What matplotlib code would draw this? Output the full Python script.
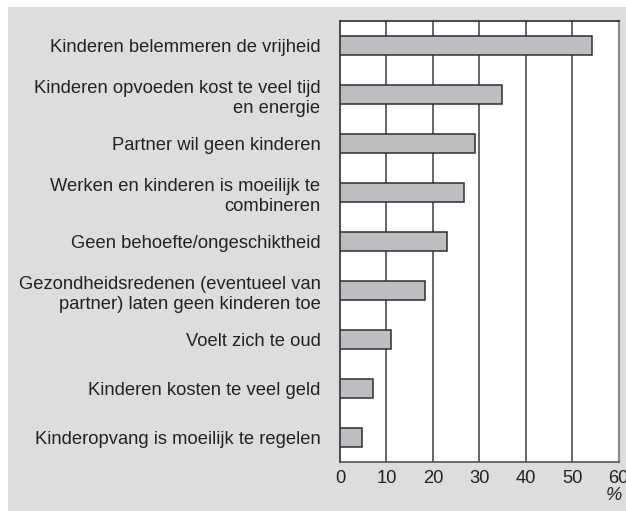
import matplotlib
matplotlib.use("Agg")
import matplotlib.pyplot as plt
from matplotlib.patches import Rectangle

categories = [
    "Kinderen belemmeren de vrijheid",
    "Kinderen opvoeden kost te veel tijd\nen energie",
    "Partner wil geen kinderen",
    "Werken en kinderen is moeilijk te\ncombineren",
    "Geen behoefte/ongeschiktheid",
    "Gezondheidsredenen (eventueel van\npartner) laten geen kinderen toe",
    "Voelt zich te oud",
    "Kinderen kosten te veel geld",
    "Kinderopvang is moeilijk te regelen",
]
values = [54.3, 34.9, 29.1, 26.6, 23.0, 18.2, 11.0, 7.2, 4.8]
xticks = [0, 10, 20, 30, 40, 50, 60]
xlabel = "%"

plt.rcParams['font.family'] = ['Liberation Sans', 'DejaVu Sans']

W, H = 626, 511
fig = plt.figure(figsize=(W / 100, H / 100), dpi=100, facecolor="white")
fig.patches.append(Rectangle((8 / W, 0), 1 - 8 / W, 1 - 7 / H, transform=fig.transFigure,
                             facecolor="#dcdddf", edgecolor="none", zorder=-10))

ax = fig.add_axes([340 / W, 1 - 462 / H, (618.7 - 340) / W, (462 - 21) / H])
ax.set_zorder(5)
ax.set_facecolor("white")

ypos = list(range(len(categories)))
ax.barh(ypos, values, height=0.39, color="#bdbec1", edgecolor="#2e2e2e", linewidth=1.1, zorder=3)

ax.set_xlim(0, 60)
ax.set_ylim(len(categories) - 0.5, -0.5)
ax.set_xticks(xticks)
ax.set_xticklabels([str(t) for t in xticks])
ax.set_yticks(ypos)
ax.set_yticklabels(categories, linespacing=1.26, ha="right")
ax.tick_params(axis="y", length=0, pad=14, labelsize=13.2, labelcolor="#222222")
ax.tick_params(axis="x", length=0, pad=6, labelsize=13.2, labelcolor="#222222")

for t in xticks[1:-1]:
    ax.axvline(t, color="#5a5a5a", linewidth=1.3, zorder=1)

for side in ["left", "top", "bottom"]:
    ax.spines[side].set_color("#2e2e2e")
    ax.spines[side].set_linewidth(1.2)
ax.spines["bottom"].set_color("#555555")
ax.spines["right"].set_color("#8a8a8a")
ax.spines["right"].set_linewidth(1.6)

fig.text(614 / W, 1 - 495 / H, xlabel, fontsize=13.2, style="italic", ha="center", va="center",
         color="#222222")

fig.savefig("out.png", dpi=100, facecolor=fig.get_facecolor())
